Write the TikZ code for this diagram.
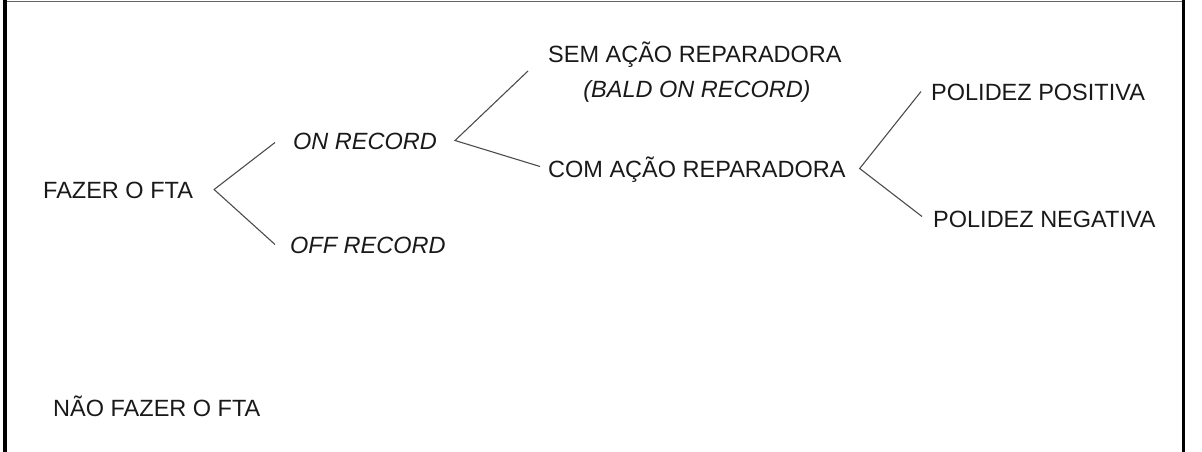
\documentclass[tikz,border=0pt]{standalone}
\usepackage{fontspec}
\setmainfont{Liberation Sans}
\begin{document}
\begin{tikzpicture}[x=1pt,y=-1pt,
  lbl/.style={inner sep=0pt,anchor=base west,text height=17pt,text depth=0pt,
    font=\fontsize{23.5}{28}\selectfont,text=black!90},
  itl/.style={lbl,font=\fontsize{23.5}{28}\selectfont\itshape},
  branch/.style={draw=black!70,line width=1.1pt},
  frame/.style={draw=black,line width=3.5pt}]
\useasboundingbox (0,0) rectangle (1202,452);
% frame
\draw[draw=black!60,line width=1.5pt] (5,1.5) -- (1183,1.5);
\draw[frame] (5,0) -- (5,452);
\draw[draw=black,line width=3pt] (1183,0) -- (1183,452);
% labels
\node[lbl] (fta) at (43,198) {FAZER O FTA};
\node[lbl] (nao) at (53,416) {NÃO FAZER O FTA};
\node[itl] (on) at (293,149) {ON RECORD};
\node[itl] (off) at (290,253) {OFF RECORD};
\node[lbl] (sem) at (548,63) {SEM AÇÃO REPARADORA};
\node[itl,anchor=base] (bald) at (697,97) {(BALD ON RECORD)};
\node[lbl] (com) at (548,177) {COM AÇÃO REPARADORA};
\node[lbl] (pos) at (931,100) {POLIDEZ POSITIVA};
\node[lbl] (neg) at (933,227) {POLIDEZ NEGATIVA};
% vertices
\coordinate (v1) at ([xshift=21pt]fta.east);
\coordinate (v2) at ([xshift=18pt]on.east);
\coordinate (v3) at ([xshift=14pt]com.east);
% branches
\draw[branch] ([xshift=-18pt,yshift=-2pt]on.west) -- (v1) -- ([xshift=-15pt]off.west);
\draw[branch] ([xshift=-20pt,yshift=-16.5pt]sem.west) -- (v2) -- ([xshift=-8pt,yshift=2pt]com.west);
\draw[branch] ([xshift=-10pt]pos.west) -- (v3) -- ([xshift=-11pt,yshift=2pt]neg.west);
\end{tikzpicture}
\end{document}
